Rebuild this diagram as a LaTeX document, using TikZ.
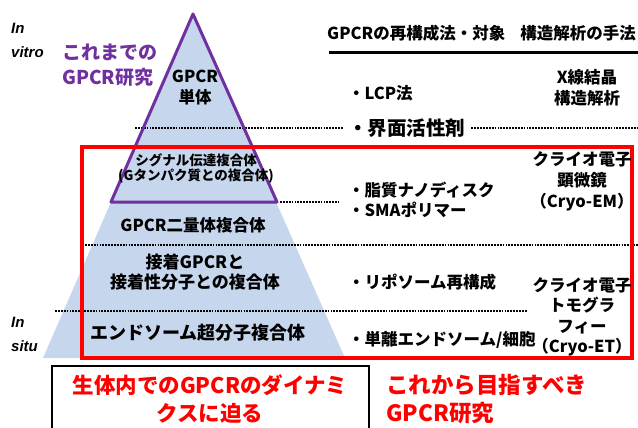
\documentclass[tikz,border=0pt]{standalone}
\usepackage{fontspec}
\setmainfont{Noto Sans CJK JP}
\newfontfamily\latinfont{Liberation Sans}
\usepackage{xcolor}
\definecolor{pyramid}{RGB}{198,214,236}
\definecolor{oldwork}{RGB}{112,48,160}
\definecolor{newwork}{RGB}{255,0,0}

\begin{document}
\begin{tikzpicture}[x=1pt,y=-1pt,inner sep=0pt,
  sep/.style={line width=2pt,dash pattern=on 1.8pt off 1.1pt},
  jp/.style={font=\bfseries\fontsize{16.5}{21}\selectfont,align=center},
  method/.style={jp,anchor=west},
  situ/.style={font=\latinfont\bfseries\itshape\fontsize{15}{24}\selectfont,align=left,anchor=west}]
\useasboundingbox (0,0) rectangle (638,428);
\def\ybase{358}
\coordinate (apex) at (193,14);
\fill[pyramid] (apex)--(43,\ybase)--(345,\ybase)--cycle;
\draw[sep] (135,128)--(638,128);
\draw[sep] (280,202)--(339,202);
\draw[sep] (85,245)--(638,245);
\draw[sep] (55,311)--(527,311);
\draw[oldwork,line width=3pt,line join=round] (apex)--(111,202)--(277,202)--cycle;
\draw[newwork,line width=3.5pt] (82,147) rectangle (632,\ybase);
\draw[line width=2.5pt] (52,432)--(52,366)--(369,366)--(369,432);
\draw[line width=3pt] (329,53)--(638,53);
%
\node[situ] (vitro) at (11,40) {In\\vitro};
\node[situ] (situ) at (11,334) {In\\situ};
\node[jp,oldwork,align=left,anchor=west,font=\bfseries\fontsize{19}{25}\selectfont] (old) at (62,65) {これまでの\\GPCR研究};
\node[jp] (mono) at (195,88) {GPCR\\単体};
\node[jp,font=\bfseries\fontsize{13.5}{15}\selectfont] (signal) at (196,168) {シグナル伝達複合体\\(Gタンパク質との複合体)};
\node[jp] (dimer) at (193,225) {GPCR二量体複合体};
\node[jp,font=\bfseries\fontsize{17}{20}\selectfont] (adhes) at (195,272) {接着GPCRと\\接着性分子との複合体};
\node[jp,font=\bfseries\fontsize{18}{20}\selectfont] (endo) at (198,333) {エンドソーム超分子複合体};
%
\node[method,anchor=west] (head) at (327,33) {GPCRの再構成法・対象};
\node[method,anchor=east] (headb) at (636,33) {構造解析の手法};
\node[method] (lcp) at (348,93) {・LCP法};
\node[method,fill=white,inner xsep=5pt,font=\bfseries\fontsize{19.5}{21}\selectfont] (deterg) at (343,128) {・界面活性剤};
\node[method] (nano) at (348,190) {・脂質ナノディスク};
\node[method] (sma) at (348,210) {・SMAポリマー};
\node[method] (lipo) at (348,282) {・リポソーム再構成};
\node[method] (cell) at (348,340) {・単離エンドソーム/細胞};
\node[jp] (xray) at (587,88) {X線結晶\\構造解析};
\node[jp] (em) at (582,181) {クライオ電子\\顕微鏡\\（Cryo-EM）};
\node[jp,font=\bfseries\fontsize{16.5}{20.5}\selectfont] (et) at (582,317) {クライオ電子\\トモグラ\\フィー\\（Cryo-ET）};
%
\node[jp,newwork,font=\bfseries\fontsize{21.5}{28}\selectfont] (goal) at (210,399) {生体内でのGPCRのダイナミ\\クスに迫る};
\node[jp,newwork,align=left,anchor=west,font=\bfseries\fontsize{22.5}{28}\selectfont] (new) at (386,399) {これから目指すべき\\GPCR研究};
\end{tikzpicture}
\end{document}
